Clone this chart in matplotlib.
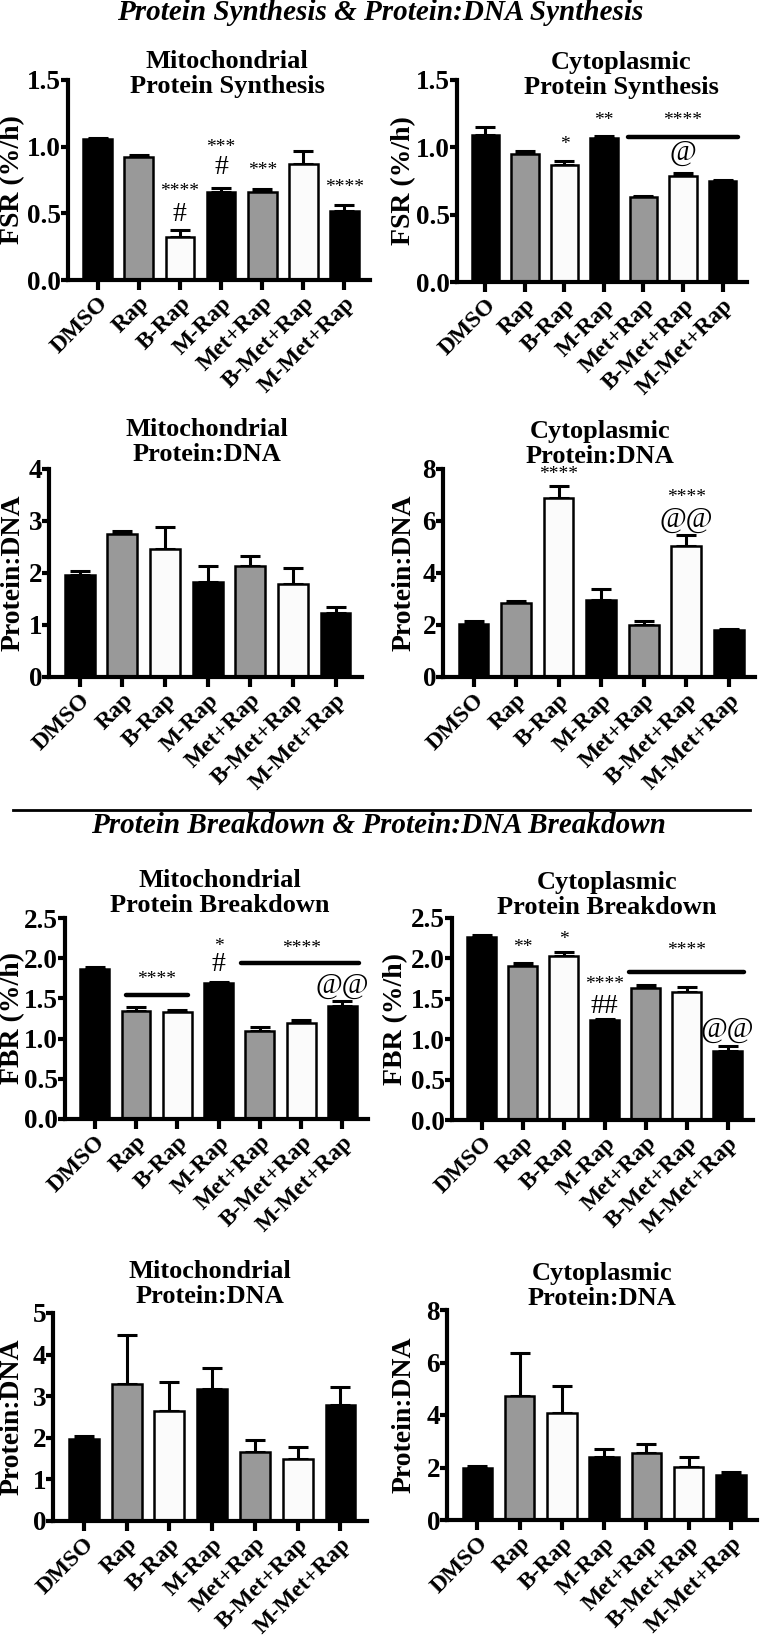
import matplotlib
matplotlib.use("Agg")
import matplotlib.pyplot as plt
import numpy as np

plt.rcParams['font.family'] = ['Liberation Serif', 'DejaVu Serif']

groups = ["DMSO", "Rap", "B-Rap", "M-Rap", "Met+Rap", "B-Met+Rap", "M-Met+Rap"]
bar_colors = ["#000000", "#999999", "#fbfbfb", "#000000", "#999999", "#fbfbfb", "#000000"]

# synthesis block
mito_fsr = [1.055, 0.925, 0.32, 0.66, 0.66, 0.87, 0.52]
mito_fsr_err = [0.01, 0.01, 0.055, 0.03, 0.02, 0.10, 0.04]
cyto_fsr = [1.09, 0.95, 0.87, 1.07, 0.63, 0.79, 0.75]
cyto_fsr_err = [0.06, 0.02, 0.025, 0.015, 0.01, 0.02, 0.01]
mito_pd_syn = [1.97, 2.75, 2.46, 1.83, 2.14, 1.79, 1.23]
mito_pd_syn_err = [0.06, 0.06, 0.43, 0.30, 0.18, 0.31, 0.11]
cyto_pd_syn = [2.02, 2.83, 6.87, 2.95, 1.99, 5.02, 1.80]
cyto_pd_syn_err = [0.14, 0.08, 0.49, 0.45, 0.17, 0.45, 0.05]

# breakdown block
mito_fbr = [1.87, 1.34, 1.33, 1.69, 1.10, 1.19, 1.41]
mito_fbr_err = [0.02, 0.05, 0.03, 0.02, 0.04, 0.04, 0.06]
cyto_fbr = [2.26, 1.91, 2.03, 1.24, 1.63, 1.58, 0.86]
cyto_fbr_err = [0.03, 0.03, 0.05, 0.01, 0.04, 0.06, 0.05]
mito_pd_brk = [1.97, 3.30, 2.65, 3.18, 1.66, 1.50, 2.80]
mito_pd_brk_err = [0.07, 1.18, 0.69, 0.50, 0.28, 0.28, 0.42]
cyto_pd_brk = [1.97, 4.74, 4.09, 2.39, 2.54, 2.03, 1.71]
cyto_pd_brk_err = [0.09, 1.63, 1.01, 0.33, 0.36, 0.38, 0.13]

W, H = 760, 1641
fig = plt.figure(figsize=(W / 100, H / 100), dpi=100)


def px(x, y):
    return x / W, 1 - y / H


def panel(box, vals, errs, ymax, yticks, fmt, ylabel, title, title_xy, ylabel_x, marks=(), lines=()):
    l, t, r, b = box
    ax = fig.add_axes([l / W, 1 - b / H, (r - l) / W, (b - t) / H])
    x = np.arange(len(groups))
    ax.errorbar(x, vals, yerr=[np.zeros(len(errs)), errs], fmt='none', ecolor='black',
                elinewidth=2.2, capsize=7, capthick=2.2, zorder=1)
    ax.bar(x, vals, width=0.7, color=bar_colors, edgecolor='black', linewidth=1.8, zorder=2)
    ax.set_xlim(-0.72, 6.62)
    ax.set_ylim(0, ymax)
    ax.set_yticks(yticks)
    ax.set_yticklabels([fmt.format(v) for v in yticks], fontsize=19.5, fontweight='bold')
    ax.set_xticks(x)
    ax.set_xticklabels(groups, rotation=45, ha='right', rotation_mode='anchor',
                       fontsize=17, fontweight='bold')
    for s in ['top', 'right']:
        ax.spines[s].set_visible(False)
    for s in ['left', 'bottom']:
        ax.spines[s].set_linewidth(3)
    ax.tick_params(axis='y', length=5, width=3, pad=0)
    ax.tick_params(axis='x', length=7, width=3, pad=2)
    fig.text(*px(ylabel_x, (t + b) / 2), ylabel, rotation=90, ha='center', va='center',
             fontsize=20, fontweight='bold')
    tx, ty = title_xy
    fig.text(*px(tx, ty + 4), title, ha='center', va='center', fontsize=19,
             fontweight='bold', linespacing=1.1)
    for xi, yi, txt, size in marks:
        ax.text(xi, yi, txt, ha='center', va='center', fontsize=size, zorder=3)
    for x0, x1, yl in lines:
        ax.plot([x0, x1], [yl, yl], color='black', lw=3.2, solid_capstyle='round', zorder=3)
    return ax


star = 14
hsz = 20
asz = 21
panel((68, 80, 370, 280), mito_fsr, mito_fsr_err, 1.5, [0, 0.5, 1.0, 1.5], "{:.1f}",
      "FSR (%/h)", "Mitochondrial\nProtein Synthesis", (227, 70), 13,
      marks=[(2, 0.66, "****", star), (2, 0.49, "#", hsz), (3, 0.99, "***", star), (3, 0.84, "#", hsz),
             (4, 0.82, "***", star), (6, 0.69, "****", star)])
panel((457, 80, 747, 282), cyto_fsr, cyto_fsr_err, 1.5, [0, 0.5, 1.0, 1.5], "{:.1f}",
      "FSR (%/h)", "Cytoplasmic\nProtein Synthesis", (621, 71), 404,
      marks=[(2, 1.02, "*", star), (3, 1.2, "**", star), (5, 1.2, "****", star), (5, 0.955, "@", asz)],
      lines=[(3.6, 6.4, 1.075)])
panel((49, 469, 362, 677), mito_pd_syn, mito_pd_syn_err, 4, [0, 1, 2, 3, 4], "{:d}",
      "Protein:DNA", "Mitochondrial\nProtein:DNA", (207, 438), 13)
panel((443, 469, 755, 677), cyto_pd_syn, cyto_pd_syn_err, 8, [0, 2, 4, 6, 8], "{:d}",
      "Protein:DNA", "Cytoplasmic\nProtein:DNA", (600, 440), 404,
      marks=[(2, 7.8, "****", star), (5, 6.9, "****", star), (5, 6.05, "@@", asz)])
panel((65, 918, 368, 1119), mito_fbr, mito_fbr_err, 2.5, [0, 0.5, 1.0, 1.5, 2.0, 2.5], "{:.1f}",
      "FBR (%/h)", "Mitochondrial\nProtein Breakdown", (220, 889), 13,
      marks=[(1.5, 1.74, "****", star), (3, 2.15, "*", star), (3, 1.92, "#", hsz),
             (5, 2.12, "****", star), (6, 1.65, "@@", asz)],
      lines=[(0.75, 2.25, 1.54), (3.55, 6.4, 1.94)])
panel((452, 918, 753, 1120), cyto_fbr, cyto_fbr_err, 2.5, [0, 0.5, 1.0, 1.5, 2.0, 2.5], "{:.1f}",
      "FBR (%/h)", "Cytoplasmic\nProtein Breakdown", (607, 891), 396,
      marks=[(1, 2.13, "**", star), (2, 2.24, "*", star), (3, 1.68, "****", star), (3, 1.41, "##", hsz),
             (5, 2.1, "****", star), (6, 1.12, "@@", asz)],
      lines=[(3.6, 6.4, 1.83)])
panel((53, 1313, 367, 1521), mito_pd_brk, mito_pd_brk_err, 5, [0, 1, 2, 3, 4, 5], "{:d}",
      "Protein:DNA", "Mitochondrial\nProtein:DNA", (210, 1280), 12)
panel((447, 1310, 757, 1520), cyto_pd_brk, cyto_pd_brk_err, 8, [0, 2, 4, 6, 8], "{:d}",
      "Protein:DNA", "Cytoplasmic\nProtein:DNA", (602, 1282), 404)

fig.text(*px(380, 13), "Protein Synthesis & Protein:DNA Synthesis", ha='center', va='center',
         fontsize=21, fontweight='bold', style='italic')
fig.text(*px(378, 826), "Protein Breakdown & Protein:DNA Breakdown", ha='center', va='center',
         fontsize=21, fontweight='bold', style='italic')
fig.add_artist(plt.Line2D([13 / W, 750 / W], [1 - 810 / H, 1 - 810 / H], color='black', lw=2))

fig.savefig("out.png", dpi=100)
